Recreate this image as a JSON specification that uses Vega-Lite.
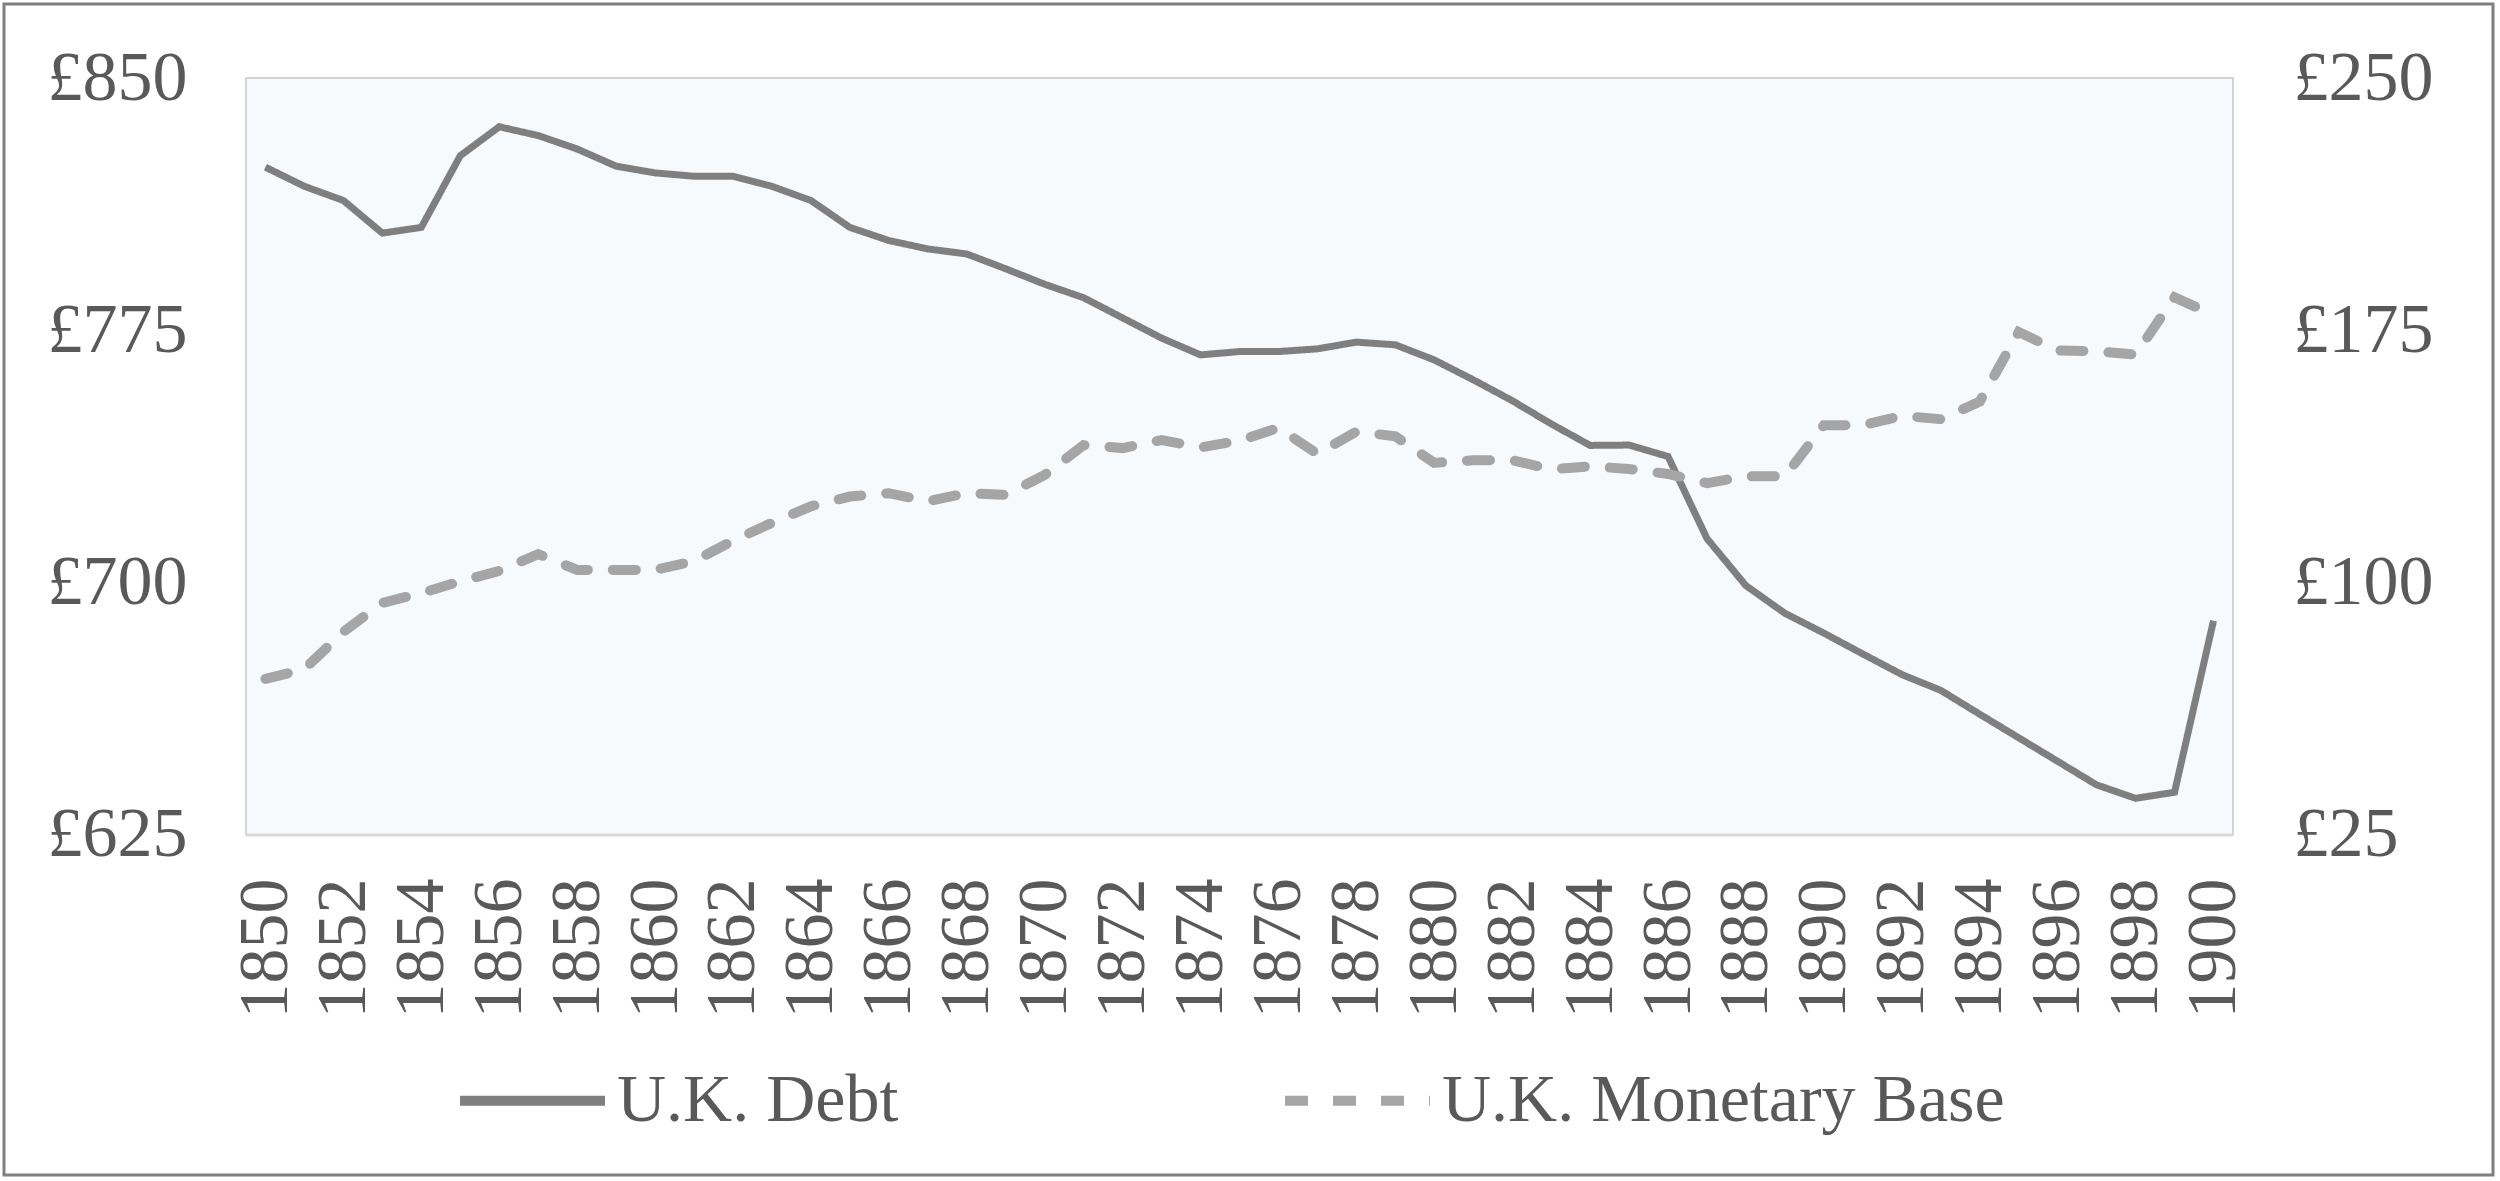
{
  "$schema": "https://vega.github.io/schema/vega-lite/v6.json",
  "width": 2489,
  "height": 1171,
  "autosize": "none",
  "padding": {"left": 4, "top": 4, "right": 7, "bottom": 6},
  "background": "white",
  "config": {
    "view": {"stroke": "#7F7F7F", "strokeWidth": 3, "fill": "white"},
    "font": "Liberation Serif",
    "axis": {
      "labelFont": "Liberation Serif",
      "labelFontSize": 70,
      "labelColor": "#595959",
      "ticks": false,
      "domain": false,
      "grid": false,
      "title": null,
      "labelOverlap": false,
      "labelFlush": false,
      "labelBound": false
    }
  },
  "datasets": {
    "uk": [
      {"year": 1850, "debt": 823.5, "base": 71.4},
      {"year": 1851, "debt": 817.8, "base": 74.3},
      {"year": 1852, "debt": 813.6, "base": 85.4},
      {"year": 1853, "debt": 803.9, "base": 94.0},
      {"year": 1854, "debt": 805.6, "base": 96.9},
      {"year": 1855, "debt": 826.9, "base": 100.4},
      {"year": 1856, "debt": 835.5, "base": 103.5},
      {"year": 1857, "debt": 832.9, "base": 108.5},
      {"year": 1858, "debt": 828.9, "base": 103.8},
      {"year": 1859, "debt": 823.8, "base": 103.8},
      {"year": 1860, "debt": 821.8, "base": 103.8},
      {"year": 1861, "debt": 820.8, "base": 106.4},
      {"year": 1862, "debt": 820.8, "base": 112.5},
      {"year": 1863, "debt": 817.8, "base": 117.8},
      {"year": 1864, "debt": 813.6, "base": 122.7},
      {"year": 1865, "debt": 805.6, "base": 125.6},
      {"year": 1866, "debt": 801.7, "base": 126.6},
      {"year": 1867, "debt": 799.2, "base": 124.2},
      {"year": 1868, "debt": 797.7, "base": 126.6},
      {"year": 1869, "debt": 793.3, "base": 126.1},
      {"year": 1870, "debt": 788.7, "base": 132.0},
      {"year": 1871, "debt": 784.7, "base": 140.9},
      {"year": 1872, "debt": 778.7, "base": 140.0},
      {"year": 1873, "debt": 772.7, "base": 142.4},
      {"year": 1874, "debt": 767.7, "base": 140.2},
      {"year": 1875, "debt": 768.7, "base": 142.2},
      {"year": 1876, "debt": 768.7, "base": 146.0},
      {"year": 1877, "debt": 769.5, "base": 138.3},
      {"year": 1878, "debt": 771.5, "base": 144.9},
      {"year": 1879, "debt": 770.7, "base": 143.5},
      {"year": 1880, "debt": 766.2, "base": 135.6},
      {"year": 1881, "debt": 760.3, "base": 136.4},
      {"year": 1882, "debt": 754.1, "base": 136.4},
      {"year": 1883, "debt": 747.2, "base": 133.7},
      {"year": 1884, "debt": 740.8, "base": 134.6},
      {"year": 1885, "debt": 740.9, "base": 133.8},
      {"year": 1886, "debt": 737.5, "base": 132.3},
      {"year": 1887, "debt": 713.1, "base": 129.6},
      {"year": 1888, "debt": 699.1, "base": 131.6},
      {"year": 1889, "debt": 690.9, "base": 131.6},
      {"year": 1890, "debt": 685.0, "base": 146.8},
      {"year": 1891, "debt": 678.8, "base": 146.8},
      {"year": 1892, "debt": 672.7, "base": 149.6},
      {"year": 1893, "debt": 668.0, "base": 148.6},
      {"year": 1894, "debt": 660.9, "base": 153.8},
      {"year": 1895, "debt": 653.9, "base": 174.5},
      {"year": 1896, "debt": 646.9, "base": 169.0},
      {"year": 1897, "debt": 639.9, "base": 168.8},
      {"year": 1898, "debt": 635.9, "base": 167.8},
      {"year": 1899, "debt": 637.7, "base": 184.8},
      {"year": 1900, "debt": 688.7, "base": 179.6}
    ],
    "panel": [{"name": "plot"}]
  },
  "layer": [
    {
      "layer": [
        {
          "data": {"name": "panel"},
          "mark": {"type": "rect", "fill": "#F7FAFD", "stroke": "#C8C8C8", "strokeWidth": 1.5},
          "encoding": {
            "x": {
              "datum": 1849.5, "type": "quantitative",
              "scale": {"domain": [1843.289, 1907.174], "nice": false, "zero": false},
              "axis": {
                "orient": "bottom", "offset": -340, "format": "d", "labelAngle": -90,
                "labelAlign": "right", "labelBaseline": "middle", "labelPadding": 43,
                "values": [1850, 1852, 1854, 1856, 1858, 1860, 1862, 1864, 1866, 1868, 1870, 1872, 1874, 1876, 1878, 1880, 1882, 1884, 1886, 1888, 1890, 1892, 1894, 1896, 1898, 1900]
              }
            },
            "x2": {"datum": 1900.5},
            "y": {
              "datum": 625, "type": "quantitative",
              "scale": {"domain": [523.94, 872.0], "nice": false, "zero": false},
              "axis": {
                "orient": "left", "offset": -242, "labelPadding": 59, "labelDy": 5,
                "values": [625, 700, 775, 850], "labelExpr": "'£' + datum.value"
              }
            },
            "y2": {"datum": 850}
          }
        },
        {
          "data": {"name": "panel"},
          "mark": {"type": "rule", "color": "#D9D9D9", "strokeWidth": 3},
          "encoding": {
            "x": {"datum": 1849.5, "type": "quantitative"},
            "x2": {"datum": 1900.5},
            "y": {"datum": 625, "type": "quantitative"}
          }
        },
        {
          "data": {"name": "uk"},
          "mark": {"type": "line", "strokeWidth": 7},
          "encoding": {
            "x": {"field": "year", "type": "quantitative"},
            "y": {"field": "debt", "type": "quantitative"},
            "color": {
              "datum": "U.K. Debt",
              "scale": {"domain": ["U.K. Debt", "U.K. Monetary Base"], "range": ["#7F7F7F", "#A5A5A5"]},
              "legend": {
                "orient": "none", "legendX": 451, "legendY": 1019, "direction": "horizontal",
                "title": null, "padding": 0, "labelFont": "Liberation Serif", "labelFontSize": 68,
                "labelColor": "#595959", "labelOffset": 7, "columnPadding": 366, "labelLimit": 0,
                "symbolType": "stroke", "symbolSize": 21025, "symbolStrokeWidth": 10
              }
            },
            "strokeDash": {
              "datum": "U.K. Debt",
              "scale": {"domain": ["U.K. Debt", "U.K. Monetary Base"], "range": [[1, 0], [23, 25]]},
              "legend": {
                "orient": "none", "legendX": 451, "legendY": 1019, "direction": "horizontal",
                "title": null, "padding": 0, "labelFont": "Liberation Serif", "labelFontSize": 68,
                "labelColor": "#595959", "labelOffset": 7, "columnPadding": 366, "labelLimit": 0,
                "symbolType": "stroke", "symbolSize": 21025, "symbolStrokeWidth": 10
              }
            }
          }
        }
      ]
    },
    {
      "data": {"name": "uk"},
      "mark": {"type": "line", "strokeWidth": 10, "strokeCap": "round"},
      "encoding": {
        "x": {"field": "year", "type": "quantitative"},
        "y": {
          "field": "base", "type": "quantitative",
          "scale": {"domain": [-76.06, 272.0], "nice": false, "zero": false},
          "axis": {
            "orient": "right", "offset": -260, "labelPadding": 60, "labelDy": 5,
            "values": [25, 100, 175, 250], "labelExpr": "'£' + datum.value"
          }
        },
        "color": {"datum": "U.K. Monetary Base"},
        "strokeDash": {"datum": "U.K. Monetary Base"}
      }
    }
  ],
  "resolve": {"scale": {"y": "independent"}}
}
